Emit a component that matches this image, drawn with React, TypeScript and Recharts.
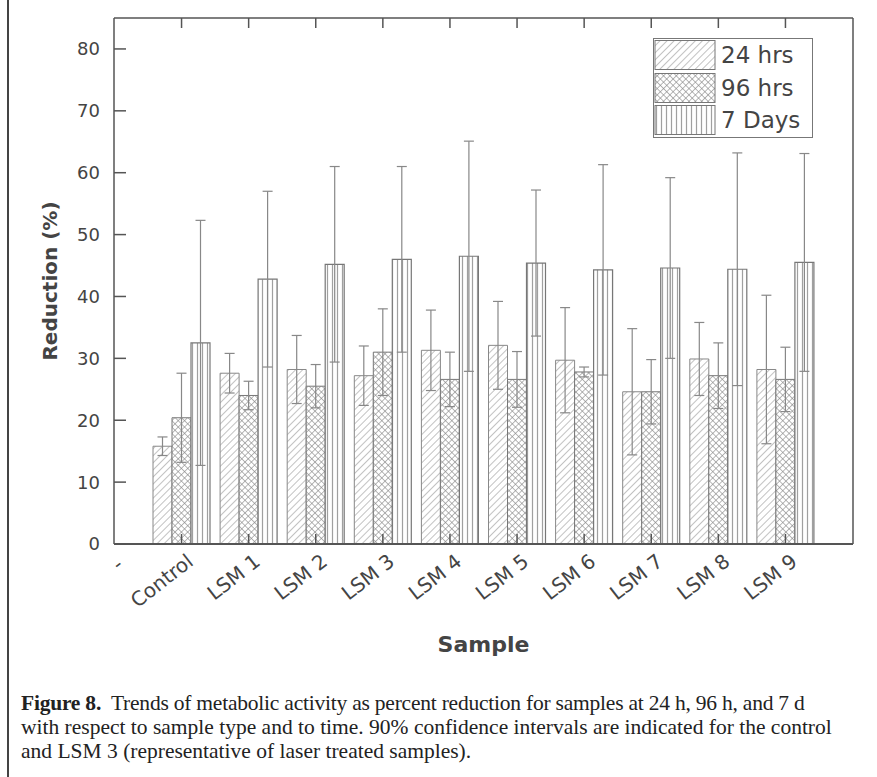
import { BarChart, Bar, XAxis, YAxis, ErrorBar, Legend, Label } from "recharts";

const samples = ["Control", "LSM 1", "LSM 2", "LSM 3", "LSM 4", "LSM 5", "LSM 6", "LSM 7", "LSM 8", "LSM 9"];
const hrs24 = [15.8, 27.6, 28.2, 27.2, 31.3, 32.1, 29.7, 24.6, 29.9, 28.2];
const hrs24Err = [1.5, 3.2, 5.5, 4.8, 6.5, 7.1, 8.5, 10.2, 5.9, 12.0];
const hrs96 = [20.4, 24.0, 25.5, 31.0, 26.6, 26.6, 27.8, 24.6, 27.2, 26.6];
const hrs96Err = [7.2, 2.3, 3.5, 7.0, 4.4, 4.5, 0.8, 5.2, 5.3, 5.2];
const days7 = [32.5, 42.8, 45.2, 46.0, 46.5, 45.4, 44.3, 44.6, 44.4, 45.5];
const days7Err = [19.8, 14.2, 15.8, 15.0, 18.6, 11.8, 17.0, 14.6, 18.8, 17.6];
const yTicks = [0, 10, 20, 30, 40, 50, 60, 70, 80];
const seriesNames = ["24 hrs", "96 hrs", "7 Days"];
const patternIds = ["pDiag", "pCross", "pVert"];

const data = samples.map((s, i) => ({
  sample: s,
  h24: hrs24[i],
  h24e: hrs24Err[i],
  h96: hrs96[i],
  h96e: hrs96Err[i],
  d7: days7[i],
  d7e: days7Err[i],
}));

const AXIS = "#555";
const TXT = "#444";
const FONT = "'DejaVu Sans', sans-serif";

// rotated category labels, plus the stray "-" of the empty slot left of Control
const XTick = (props: any) => {
  const { x, y, payload, index } = props;
  const ax = x + 13;
  const ay = y + 10;
  return (
    <g>
      {index === 0 && (
        <text x={ax - 70} y={ay + 3} transform={`rotate(-38 ${ax - 70} ${ay + 3})`} textAnchor="end" fontSize={20} fill={TXT} fontFamily={FONT}>
          -
        </text>
      )}
      <text x={ax} y={ay} transform={`rotate(-38 ${ax} ${ay})`} textAnchor="end" fontSize={20} fill={TXT} fontFamily={FONT}>
        {payload.value}
      </text>
    </g>
  );
};

const LegendBox = () => (
  <div style={{ border: "1.5px solid #777", background: "#fff", width: 158, fontFamily: FONT }}>
    {seriesNames.map((n, i) => (
      <div key={n} style={{ display: "flex", alignItems: "center", height: 32.5 }}>
        <svg width={62} height={32} style={{ display: "block" }}>
          <rect x={1} y={1.5} width={60} height={29} fill={`url(#${patternIds[i]})`} stroke="#777" strokeWidth={1} />
        </svg>
        <span style={{ fontSize: 23, color: TXT, marginLeft: 5, lineHeight: "32px" }}>{n}</span>
      </div>
    ))}
  </div>
);

export default function App() {
  return (
    <div style={{ position: "absolute", left: 0, top: 0, width: 877, height: 777, background: "#fff" }}>
      <div style={{ position: "absolute", left: 7, top: 0, width: 2, height: 777, background: "#444" }} />
      <BarChart
        width={877}
        height={680}
        data={data}
        margin={{ top: 17, right: 23, bottom: 0, left: 0 }}
        barCategoryGap={5}
        barGap={0}
      >
        <defs>
          <pattern id="pDiag" patternUnits="userSpaceOnUse" width={5} height={5} patternTransform="rotate(45)">
            <rect width={5} height={5} fill="#fff" />
            <line x1={0} y1={0} x2={0} y2={5} stroke="#999" strokeWidth={1.2} />
          </pattern>
          <pattern id="pCross" patternUnits="userSpaceOnUse" width={4.5} height={4.5} patternTransform="rotate(45)">
            <rect width={4.5} height={4.5} fill="#fff" />
            <line x1={0} y1={0} x2={0} y2={4.5} stroke="#888" strokeWidth={1.2} />
            <line x1={0} y1={0} x2={4.5} y2={0} stroke="#888" strokeWidth={1.2} />
          </pattern>
          <pattern id="pVert" patternUnits="userSpaceOnUse" width={5} height={5}>
            <rect width={5} height={5} fill="#fff" />
            <line x1={2.5} y1={0} x2={2.5} y2={5} stroke="#a0a0a0" strokeWidth={1.2} />
          </pattern>
        </defs>
        <XAxis
          xAxisId="b"
          dataKey="sample"
          height={136}
          padding={{ left: 34, right: 34 }}
          tickSize={-10}
          tickMargin={20}
          tickLine={{ stroke: AXIS, strokeWidth: 1.5 }}
          axisLine={{ stroke: AXIS, strokeWidth: 2 }}
          tick={<XTick />}
          interval={0}
        >
          <Label
            value="Sample"
            position="insideBottom"
            offset={28}
            style={{ fontSize: 22, fontWeight: "bold", fill: TXT, fontFamily: FONT }}
          />
        </XAxis>
        <XAxis
          xAxisId="t"
          dataKey="sample"
          orientation="top"
          height={1}
          padding={{ left: 34, right: 34 }}
          tickSize={-10}
          tickLine={{ stroke: AXIS, strokeWidth: 1.5 }}
          axisLine={{ stroke: AXIS, strokeWidth: 1.5 }}
          tick={() => <g />}
          interval={0}
        />
        <YAxis
          yAxisId="l"
          width={114}
          domain={[0, 85]}
          ticks={yTicks}
          tickSize={-12}
          tickMargin={26}
          tickLine={{ stroke: AXIS, strokeWidth: 1.5 }}
          axisLine={{ stroke: AXIS, strokeWidth: 1.5 }}
          tick={{ fontSize: 18, fill: TXT, fontFamily: FONT }}
        >
          <Label
            value="Reduction (%)"
            angle={-90}
            position="center"
            dx={-7}
            style={{ fontSize: 20, fontWeight: "bold", fill: TXT, fontFamily: FONT, textAnchor: "middle" }}
          />
        </YAxis>
        <YAxis
          yAxisId="r"
          orientation="right"
          width={1}
          domain={[0, 85]}
          ticks={yTicks}
          tickSize={-10}
          tickLine={{ stroke: AXIS, strokeWidth: 1.5 }}
          axisLine={{ stroke: AXIS, strokeWidth: 1.5 }}
          tick={() => <g />}
        />
        <Legend
          layout="vertical"
          align="center"
          verticalAlign="middle"
          content={<LegendBox />}
          wrapperStyle={{ position: "absolute", top: 38, left: 653, width: 161, height: 100 }}
        />
        <Bar xAxisId="b" yAxisId="l" dataKey="h24" name="24 hrs" fill="url(#pDiag)" stroke="#888" strokeWidth={1} isAnimationActive={false}>
          <ErrorBar dataKey="h24e" width={5} stroke="#888" strokeWidth={1.2} />
        </Bar>
        <Bar xAxisId="b" yAxisId="l" dataKey="h96" name="96 hrs" fill="url(#pCross)" stroke="#777" strokeWidth={1} isAnimationActive={false}>
          <ErrorBar dataKey="h96e" width={5} stroke="#888" strokeWidth={1.2} />
        </Bar>
        <Bar xAxisId="b" yAxisId="l" dataKey="d7" name="7 Days" fill="url(#pVert)" stroke="#777" strokeWidth={1.2} isAnimationActive={false}>
          <ErrorBar dataKey="d7e" width={5} stroke="#888" strokeWidth={1.2} />
        </Bar>
      </BarChart>
      <div
        style={{
          position: "absolute",
          left: 21,
          top: 691,
          fontFamily: "'Liberation Serif', 'DejaVu Serif', serif",
          fontSize: 21.5,
          lineHeight: "24px",
          color: "#222",
          whiteSpace: "nowrap",
        }}
      >
        <span style={{ letterSpacing: -0.22 }}>
          <b>Figure 8.</b>&nbsp; Trends of metabolic activity as percent reduction for samples at 24 h, 96 h, and 7 d
        </span>
        <br />
        with respect to sample type and to time. 90% confidence intervals are indicated for the control
        <br />
        and LSM 3 (representative of laser treated samples).
      </div>
    </div>
  );
}
